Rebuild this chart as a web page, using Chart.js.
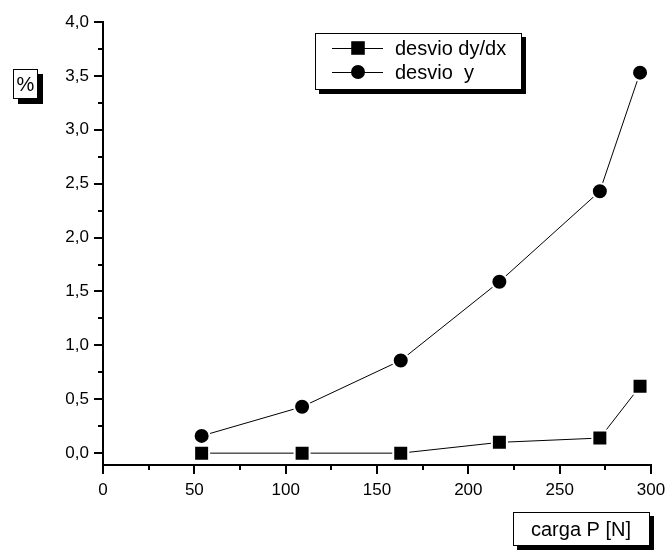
<!DOCTYPE html>
<html>
<head>
<meta charset="utf-8">
<script src="https://cdn.jsdelivr.net/npm/chart.js@4.4.1/dist/chart.umd.min.js"></script>
<style>
html, body { margin: 0; padding: 0; background: #fff; }
#wrap { width: 667px; height: 551px; }
</style>
</head>
<body>
<div id="wrap"><canvas id="lineChart"></canvas></div>
<script>
// data
var loadN = [54, 109, 163, 217, 272, 294];
var desvioDyDx = [0.0, 0.0, 0.0, 0.10, 0.14, 0.62];
var desvioY = [0.16, 0.43, 0.86, 1.59, 2.43, 3.53];
var seriesNames = ["desvio dy/dx", "desvio  y"];
var xTicks = [0, 25, 50, 75, 100, 125, 150, 175, 200, 225, 250, 275, 300];
var yTicks = [0, 0.25, 0.5, 0.75, 1, 1.25, 1.5, 1.75, 2, 2.25, 2.5, 2.75, 3, 3.25, 3.5, 3.75, 4];

var FONT = "'Liberation Sans', Arial, sans-serif";

function pts(ys) {
  return loadN.map(function (x, i) { return { x: x, y: ys[i] }; });
}

function boxWithShadow(ctx, x, y, w, h, off) {
  ctx.save();
  ctx.fillStyle = '#000';
  ctx.fillRect(x + off, y + off, w, h);
  ctx.fillStyle = '#fff';
  ctx.fillRect(x, y, w, h);
  ctx.strokeStyle = '#000';
  ctx.lineWidth = 1;
  ctx.strokeRect(x + 0.5, y + 0.5, w - 1, h - 1);
  ctx.restore();
}

var decor = {
  id: 'decor',
  afterDraw: function (chart) {
    var ctx = chart.ctx;
    var xs = chart.scales.x, ys = chart.scales.y;
    var area = chart.chartArea;
    ctx.save();
    ctx.strokeStyle = '#000';
    ctx.lineWidth = 2;
    // tick marks, long at labels, short in between
    xTicks.forEach(function (v) {
      var px = Math.round(xs.getPixelForValue(v));
      var len = (v % 50 === 0) ? 9 : 5;
      ctx.beginPath();
      ctx.moveTo(px, area.bottom);
      ctx.lineTo(px, area.bottom + len);
      ctx.stroke();
    });
    yTicks.forEach(function (v) {
      var py = Math.round(ys.getPixelForValue(v));
      var len = (Math.round(v * 100) % 50 === 0) ? 9 : 5;
      ctx.beginPath();
      ctx.moveTo(area.left, py);
      ctx.lineTo(area.left - len, py);
      ctx.stroke();
    });
    ctx.restore();

    // legend
    boxWithShadow(ctx, 315, 33, 207, 57, 4);
    var rows = [48, 72];
    chart.data.datasets.forEach(function (ds, i) {
      var ry = rows[i];
      ctx.save();
      ctx.strokeStyle = '#000';
      ctx.lineWidth = 1;
      ctx.beginPath();
      ctx.moveTo(332, ry + 0.5);
      ctx.lineTo(383, ry + 0.5);
      ctx.stroke();
      ctx.fillStyle = '#000';
      Chart.helpers.drawPoint(ctx, { pointStyle: ds.pointStyle, radius: ds.pointRadius - 1, borderWidth: 0 }, 358, ry);
      ctx.restore();
      ctx.save();
      ctx.fillStyle = '#000';
      ctx.font = '20px ' + FONT;
      ctx.textBaseline = 'middle';
      ctx.fillText(seriesNames[i], 395, ry + 1);
      ctx.restore();
    });

    // axis titles in shadowed boxes
    boxWithShadow(ctx, 13, 69, 25, 30, 5);
    boxWithShadow(ctx, 513, 512, 137, 34, 4);
    ctx.save();
    ctx.fillStyle = '#000';
    ctx.font = '20px ' + FONT;
    ctx.textAlign = 'center';
    ctx.textBaseline = 'middle';
    ctx.fillText('%', 25.5, 85);
    ctx.fillText('carga P [N]', 581, 530);
    ctx.restore();
  }
};

var ctxL = document.getElementById("lineChart").getContext('2d');
var myLineChart = new Chart(ctxL, {
  type: 'line',
  data: {
    datasets: [{
      label: seriesNames[0],
      data: pts(desvioDyDx),
      borderColor: '#000',
      borderWidth: 1,
      pointStyle: 'rect',
      pointRadius: 10.6,
      pointBackgroundColor: '#000',
      pointBorderColor: '#fff',
      pointBorderWidth: 2,
      tension: 0,
      fill: false
    },
    {
      label: seriesNames[1],
      data: pts(desvioY),
      borderColor: '#000',
      borderWidth: 1,
      pointStyle: 'circle',
      pointRadius: 8,
      pointBackgroundColor: '#000',
      pointBorderColor: '#fff',
      pointBorderWidth: 2,
      tension: 0,
      fill: false
    }]
  },
  options: {
    responsive: true,
    maintainAspectRatio: false,
    animation: false,
    layout: { padding: { left: 0, top: 22, right: 16, bottom: 0 } },
    plugins: { legend: { display: false }, tooltip: { enabled: false } },
    scales: {
      x: {
        type: 'linear',
        min: 0,
        max: 300,
        afterBuildTicks: function (s) { s.ticks = xTicks.map(function (v) { return { value: v }; }); },
        afterFit: function (s) { s.height = 86; s.paddingLeft = 0; s.paddingRight = 0; },
        grid: { display: true, drawOnChartArea: false, drawTicks: false },
        border: { display: true, color: '#000', width: 2 },
        ticks: {
          color: '#000',
          font: { family: FONT, size: 17 },
          padding: 15,
          maxRotation: 0,
          autoSkip: false,
          callback: function (v) { return v % 50 === 0 ? String(v) : ''; }
        }
      },
      y: {
        min: -0.11,
        max: 4,
        afterBuildTicks: function (s) { s.ticks = yTicks.map(function (v) { return { value: v }; }); },
        afterFit: function (s) { s.width = 103; s.paddingTop = 0; s.paddingBottom = 0; },
        grid: { display: true, drawOnChartArea: false, drawTicks: false },
        border: { display: true, color: '#000', width: 2 },
        ticks: {
          color: '#000',
          font: { family: FONT, size: 17 },
          padding: 14,
          autoSkip: false,
          callback: function (v) {
            return (Math.round(v * 100) % 50 === 0) ? v.toFixed(1).replace('.', ',') : '';
          }
        }
      }
    }
  },
  plugins: [decor]
});
</script>
</body>
</html>
